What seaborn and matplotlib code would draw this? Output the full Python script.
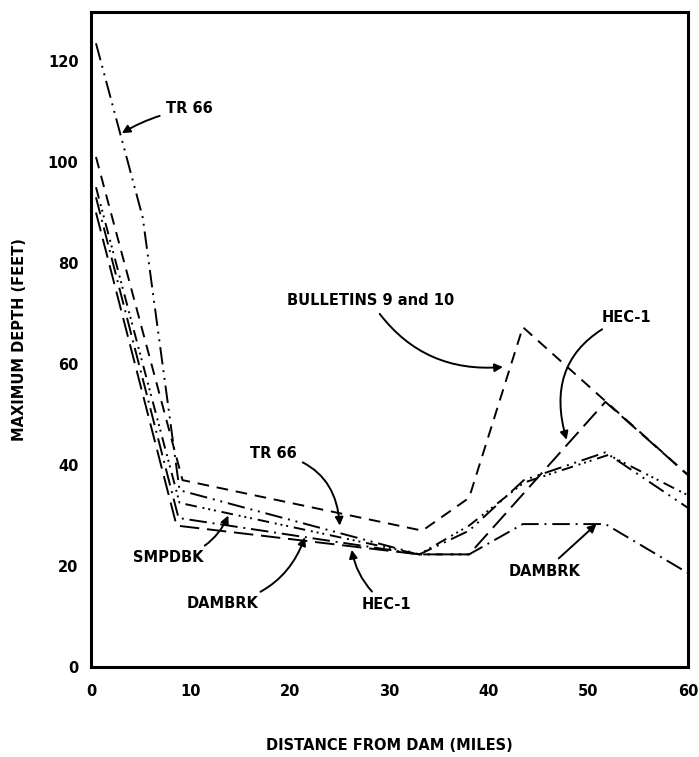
import matplotlib
matplotlib.use("Agg")
import matplotlib.pyplot as plt
import seaborn as sns
import pandas as pd

sns.set_theme(style="white")
plt.rcParams['font.family'] = ['DejaVu Sans']

# --- data ---
bulletins_x = [0.5, 9.2, 33.3, 38.0, 43.4, 60.0]
bulletins_y = [101.0, 37.0, 27.0, 33.5, 67.3, 38.0]

tr66_x = [0.5, 5.2, 8.9, 33.0, 38.0, 43.5, 51.7, 60.0]
tr66_y = [123.5, 89.0, 35.0, 22.3, 27.0, 37.0, 42.5, 31.5]

hec1_x = [0.5, 8.6, 33.0, 38.0, 51.7, 60.0]
hec1_y = [90.0, 28.0, 22.3, 22.3, 52.5, 38.0]

dambrk_x = [0.5, 8.8, 33.0, 38.0, 43.4, 51.7, 60.0]
dambrk_y = [93.0, 29.5, 22.3, 22.3, 28.3, 28.3, 18.6]

smpdbk_x = [0.5, 8.9, 33.0, 38.0, 43.5, 52.0, 60.0]
smpdbk_y = [95.0, 32.5, 22.3, 28.0, 36.5, 42.0, 34.0]

x_ticks = [0, 10, 20, 30, 40, 50, 60]
y_ticks = [0, 20, 40, 60, 80, 100, 120]

series = [
    ("BULLETINS 9 and 10", bulletins_x, bulletins_y, (0, (6, 4))),
    ("TR 66", tr66_x, tr66_y, (0, (9, 3, 1, 3, 1, 3))),
    ("HEC-1", hec1_x, hec1_y, (0, (10, 4))),
    ("DAMBRK", dambrk_x, dambrk_y, (0, (9, 3, 1, 3))),
    ("SMPDBK", smpdbk_x, smpdbk_y, (0, (6, 3, 1, 2, 1, 2, 1, 3))),
]

fig = plt.figure(figsize=(6.99, 7.57), dpi=100)
ax = fig.add_axes([91 / 699, 1 - 667 / 757, (688 - 91) / 699, (667 - 12) / 757])

for name, xs, ys, ls in series:
    df = pd.DataFrame({"x": xs, "y": ys})
    sns.lineplot(data=df, x="x", y="y", ax=ax, color="black", linewidth=1.4,
                 linestyle=ls, sort=False, estimator=None)

ax.set_xlim(0, 60)
ax.set_ylim(0, 129.7)
ax.set_xticks(x_ticks)
ax.set_yticks(y_ticks)
ax.set_xticklabels([str(v) for v in x_ticks], fontsize=10.5, fontweight="bold")
ax.set_yticklabels([str(v) for v in y_ticks], fontsize=10.5, fontweight="bold")
ax.tick_params(axis="x", direction="in", length=6, width=1.5, pad=12, colors="black")
ax.tick_params(axis="y", direction="out", length=6, width=1.5, pad=3, colors="black")
for s in ax.spines.values():
    s.set_visible(True)
    s.set_color("black")
    s.set_linewidth(2.2)

ax.set_xlabel("DISTANCE FROM DAM (MILES)", fontsize=10.5, fontweight="bold", color="black")
ax.set_ylabel("MAXIMUM DEPTH (FEET)", fontsize=10.5, fontweight="bold", color="black")
ax.xaxis.label.set_va("center")
ax.yaxis.label.set_va("center")
ax.xaxis.set_label_coords(0.5, (667 - 745) / 655)
ax.yaxis.set_label_coords((20 - 91) / 597, 0.5)

arrow = dict(arrowstyle="-|>", color="black", lw=1.4, mutation_scale=12)

def note(text, xy, xytext, rad, ha="left"):
    ax.annotate(text, xy=xy, xytext=xytext, ha=ha, va="center",
                fontsize=10.5, fontweight="bold", color="black",
                arrowprops=dict(arrow, connectionstyle=f"arc3,rad={rad}",
                                shrinkA=2, shrinkB=0))

note("TR 66", (3.1, 105.7), (7.5, 110.5), 0.1)
note("BULLETINS 9 and 10", (41.4, 59.4), (19.7, 72.5), 0.3)
note("HEC-1", (47.8, 45.0), (51.3, 69.3), 0.45)
note("TR 66", (25.0, 28.0), (16.0, 42.3), -0.4)
note("SMPDBK", (13.8, 30.0), (4.2, 21.6), 0.3)
note("DAMBRK", (21.5, 25.7), (9.6, 12.5), 0.3)
note("HEC-1", (26.2, 23.2), (27.2, 12.4), -0.2)
note("DAMBRK", (50.8, 28.3), (42.0, 19.0), 0.0)

fig.savefig("out.png", dpi=100)
